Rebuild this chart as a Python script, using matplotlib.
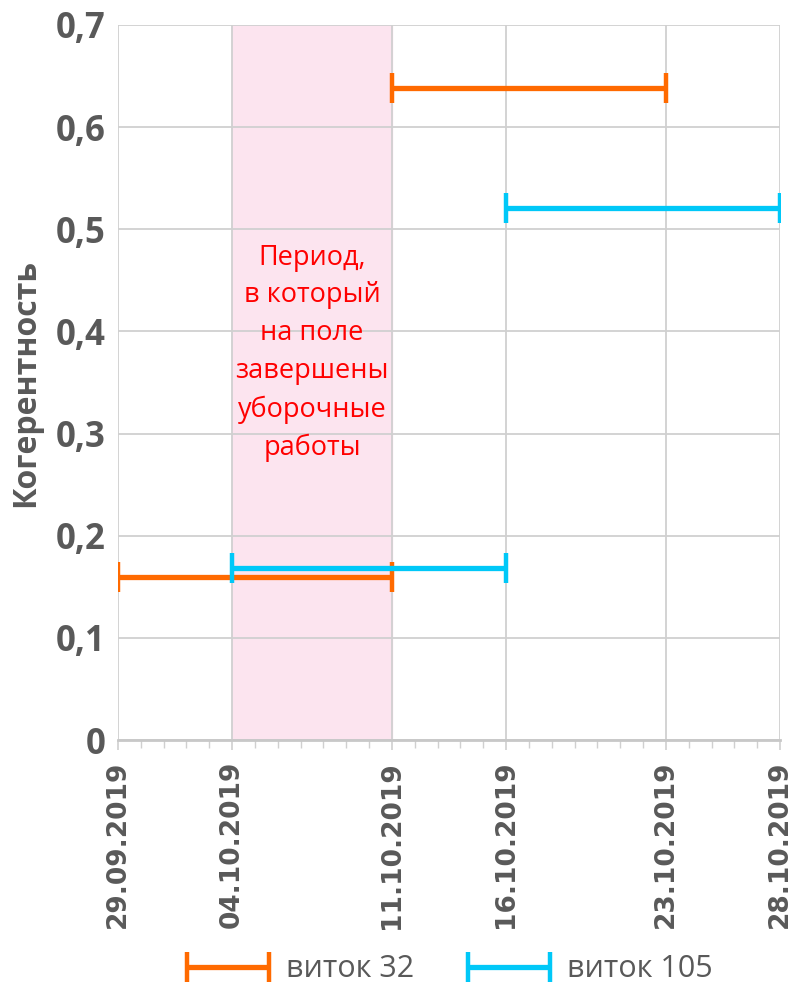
import matplotlib.pyplot as plt
import matplotlib.dates as mdates
from matplotlib.legend_handler import HandlerErrorbar
from datetime import datetime

# Coherence per period for two orbits
orbit32_start = ['29.09.2019', '11.10.2019']
orbit32_end = ['11.10.2019', '23.10.2019']
orbit32_coh = [0.16, 0.638]

orbit105_start = ['04.10.2019', '16.10.2019']
orbit105_end = ['16.10.2019', '28.10.2019']
orbit105_coh = [0.168, 0.521]

harvest_period = ['04.10.2019', '11.10.2019']
tick_dates = ['29.09.2019', '04.10.2019', '11.10.2019', '16.10.2019', '23.10.2019', '28.10.2019']
y_ticks = [0, 0.1, 0.2, 0.3, 0.4, 0.5, 0.6, 0.7]

ORANGE = '#FF6A00'
CYAN = '#00C8F8'
GREY_TXT = '#595959'
GRID = '#D0D0D0'


def d(s):
    return mdates.date2num(datetime.strptime(s, '%d.%m.%Y'))


def draw_ranges(ax, starts, ends, vals, color, label):
    mid = [(d(a) + d(b)) / 2 for a, b in zip(starts, ends)]
    half = [(d(b) - d(a)) / 2 for a, b in zip(starts, ends)]
    return ax.errorbar(mid, vals, xerr=half, fmt='none', ecolor=color,
                       elinewidth=3.8, capsize=11, capthick=3.2, label=label, zorder=3)


fig = plt.figure(figsize=(7.95, 9.88), dpi=100)
ax = fig.add_axes([0.1484, 0.251, 0.8328, 0.7237])

ax.axvspan(d(harvest_period[0]), d(harvest_period[1]), color='#FCE4EF', zorder=0)

draw_ranges(ax, orbit32_start, orbit32_end, orbit32_coh, ORANGE, 'виток 32')
draw_ranges(ax, orbit105_start, orbit105_end, orbit105_coh, CYAN, 'виток 105')

ax.set_xlim(d(tick_dates[0]), d(tick_dates[-1]))
ax.set_ylim(0, 0.7)

ax.set_xticks([d(t) for t in tick_dates])
ax.set_xticklabels(tick_dates, rotation=90, fontsize=19, fontweight='bold',
                   color=GREY_TXT, family='DejaVu Sans')
days = [d(tick_dates[0]) + i for i in range(int(d(tick_dates[-1]) - d(tick_dates[0])) + 1)]
ax.set_xticks(days, minor=True)
ax.tick_params(axis='x', which='major', length=7, color=GRID, width=1.2, pad=8)
ax.tick_params(axis='x', which='minor', length=6, color=GRID, width=1)

ax.set_yticks(y_ticks)
ax.set_yticklabels([('%.1f' % v).replace('.', ',') if v else '0' for v in y_ticks],
                   fontsize=25, fontweight='bold', color=GREY_TXT, family='Open Sans')
ax.tick_params(axis='y', length=0, pad=9)

ax.grid(True, which='major', color=GRID, linewidth=1.3, zorder=1)
ax.set_axisbelow(True)
for side in ['top', 'right', 'left']:
    ax.spines[side].set_visible(False)
ax.spines['bottom'].set_color('#C8C8C8')
ax.spines['bottom'].set_linewidth(2)

ax.set_ylabel('Когерентность', fontsize=23, fontweight='bold', color=GREY_TXT,
              family='Open Sans', labelpad=10)

ax.text((d(harvest_period[0]) + d(harvest_period[1])) / 2, 0.486,
        'Период,\nв который\nна поле\nзавершены\nуборочные\nработы',
        ha='center', va='top', color='#FF0000', fontsize=19.5, family='Open Sans',
        linespacing=1.47, zorder=4)

handles, labels = ax.get_legend_handles_labels()
fig.legend(handles, labels, loc='lower center', bbox_to_anchor=(0.557, -0.024), ncol=2,
           frameon=False, labelcolor=GREY_TXT, handlelength=3.6,
           handletextpad=0.1, columnspacing=1.3, prop={'family': 'Open Sans', 'size': 22},
           handler_map={type(handles[0]): HandlerErrorbar(xerr_size=1.35)})

fig.savefig('out.png', dpi=100)
